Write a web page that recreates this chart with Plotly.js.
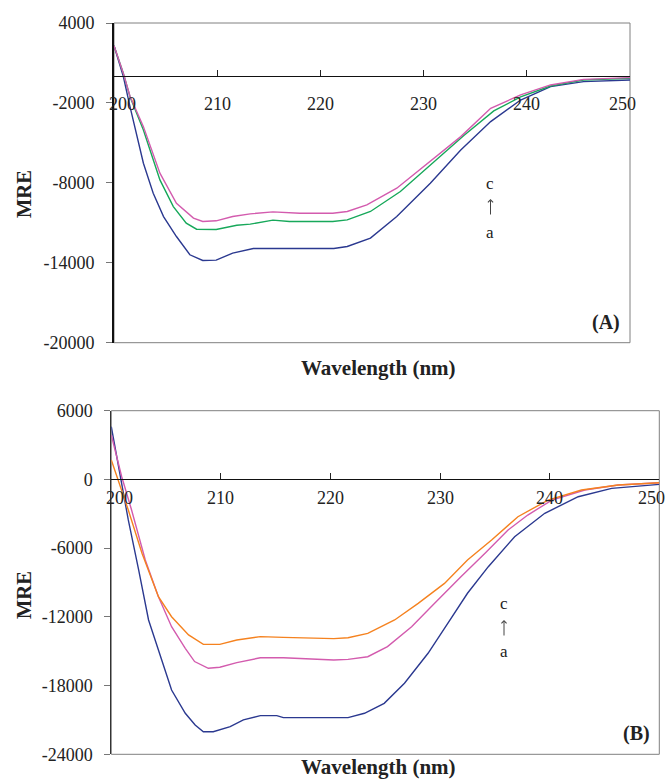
<!DOCTYPE html>
<html>
<head>
<meta charset="utf-8">
<script src="https://cdn.plot.ly/plotly-3.0.1.min.js"></script>
<style>
  html, body { margin: 0; padding: 0; background: #fff; }
  #chart { width: 668px; height: 780px; }
</style>
</head>
<body>
<div id="chart"></div>
<script>
// ---------- Panel A data (wavelength nm, MRE) ----------
const wlA_a = [200, 200.9, 201.55, 202.2, 202.85, 203.8, 204.8, 206.05, 207.35, 208.6, 209.9, 211.5, 213.5, 221.3, 222.6, 224.85, 227.4, 230.65, 233.6, 236.5, 239.4, 242.3, 245.5, 250];
const mreA_a = [2300, 0, -2280, -4530, -6530, -8780, -10530, -12030, -13400, -13830, -13800, -13275, -12930, -12930, -12780, -12150, -10530, -8025, -5530, -3400, -1780, -780, -400, -280];

const wlA_b = [200, 200.9, 201.55, 202.85, 204.45, 205.75, 207.0, 208.0, 209.9, 211.9, 213.2, 215.4, 217.0, 221.2, 222.6, 224.85, 227.75, 231.0, 233.9, 236.8, 239.4, 242.3, 245.5, 250];
const mreA_b = [2300, 225, -1530, -4030, -7780, -9780, -11030, -11480, -11500, -11180, -11100, -10800, -10900, -10900, -10780, -10150, -8650, -6400, -4450, -2600, -1550, -730, -280, -150];

const wlA_c = [200, 200.9, 201.55, 202.85, 204.45, 206.05, 207.7, 208.6, 209.9, 211.5, 213.2, 215.4, 218.0, 221.2, 222.6, 224.5, 227.4, 230.0, 233.6, 236.5, 239.4, 242.3, 245.5, 250];
const mreA_c = [2300, 225, -1500, -3780, -7275, -9530, -10650, -10900, -10850, -10530, -10330, -10180, -10280, -10280, -10150, -9650, -8400, -6780, -4530, -2400, -1400, -650, -230, -100];

// ---------- Panel B data ----------
const wlB_a = [200, 200.8, 201.55, 202.5, 203.4, 204.6, 205.5, 206.75, 207.65, 208.4, 209.3, 210.85, 212.05, 213.6, 215.1, 215.7, 220.3, 221.6, 223.1, 224.9, 226.75, 228.9, 230.7, 232.5, 234.4, 236.8, 239.55, 242.6, 245.65, 250];
const mreB_a = [4600, 235, -3540, -7910, -12275, -15770, -18385, -20420, -21440, -22025, -22025, -21590, -21000, -20625, -20625, -20800, -20800, -20800, -20420, -19550, -17800, -15180, -12560, -9940, -7620, -5000, -2960, -1510, -780, -430];

const wlB_b = [200, 200.95, 201.85, 203.1, 204.3, 205.5, 206.75, 207.6, 208.85, 209.9, 211.45, 213.6, 215.7, 218.8, 220.3, 221.6, 223.4, 225.2, 227.4, 229.5, 231.9, 234.1, 236.2, 238.0, 240.2, 243.2, 246.25, 250];
const mreB_b = [3880, 235, -2670, -7040, -10240, -12860, -14745, -15900, -16490, -16400, -16000, -15570, -15570, -15710, -15770, -15710, -15480, -14600, -12860, -10820, -8490, -6450, -4420, -3110, -1800, -925, -490, -290];

const wlB_c = [200, 200.65, 201.55, 202.8, 204.3, 205.5, 207.05, 208.4, 209.9, 211.45, 213.6, 215.7, 218.8, 220.3, 221.6, 223.4, 225.85, 228.0, 230.4, 232.5, 234.7, 237.1, 239.85, 242.9, 246.25, 250];
const mreB_c = [1700, -50, -2670, -6450, -10240, -11990, -13580, -14400, -14400, -14020, -13730, -13790, -13820, -13900, -13820, -13440, -12270, -10820, -9080, -7040, -5290, -3260, -1800, -925, -490, -290];

// ---------- axis ticks ----------
const xRange = [200, 250];
const xTicks = [200, 210, 220, 230, 240, 250];
const yRangeA = [-20000, 4000];
const yTicksA = [4000, -2000, -8000, -14000, -20000];
const yLabelsA = ['4000', '-2000', '-8000', '-14000', '-20000'];
const yRangeB = [-24000, 6000];
const yTicksB = [6000, 0, -6000, -12000, -18000, -24000];
const yLabelsB = ['6000', '0', '-6000', '-12000', '-18000', '-24000'];

const W = 668, H = 780;
const px = x => x / W;
const py = y => 1 - y / H;

const domXA = [px(114), px(630)];
const domYA = [py(342.7), py(23)];
const domXB = [px(111.3), px(659.3)];
const domYB = [py(754.3), py(410.7)];

function zeroPos(dom, rng) {
  return dom[0] + (0 - rng[0]) / (rng[1] - rng[0]) * (dom[1] - dom[0]);
}

const SERIF = 'Liberation Serif';
const TXT = '#222';
const tickFont = {family: SERIF, size: 18, color: TXT};

const cBlue = '#2b3990', cGreen = '#17a85a', cMag = '#d35bae', cOrange = '#f5821f';
const lw = 1.4;

const traces = [
  {x: wlA_a, y: mreA_a, xaxis: 'x', yaxis: 'y', mode: 'lines', line: {color: cBlue, width: lw}},
  {x: wlA_b, y: mreA_b, xaxis: 'x', yaxis: 'y', mode: 'lines', line: {color: cGreen, width: lw}},
  {x: wlA_c, y: mreA_c, xaxis: 'x', yaxis: 'y', mode: 'lines', line: {color: cMag, width: lw}},
  {x: wlB_a, y: mreB_a, xaxis: 'x2', yaxis: 'y2', mode: 'lines', line: {color: cBlue, width: lw}},
  {x: wlB_b, y: mreB_b, xaxis: 'x2', yaxis: 'y2', mode: 'lines', line: {color: cMag, width: lw}},
  {x: wlB_c, y: mreB_c, xaxis: 'x2', yaxis: 'y2', mode: 'lines', line: {color: cOrange, width: lw}}
];

function xAxis(dom, pos) {
  return {
    domain: dom, range: xRange, anchor: 'free', position: pos,
    tickvals: xTicks, ticks: 'inside', ticklen: 6, tickcolor: '#222', tickwidth: 1,
    showticklabels: false,
    showline: true, linecolor: '#111', linewidth: 1,
    showgrid: false, zeroline: false, fixedrange: true
  };
}
function yAxis(dom, rng, tv, tt, anchor, lc, lwid) {
  return {
    domain: dom, range: rng, anchor: anchor, tickvals: tv, ticktext: tt,
    ticks: 'outside', ticklen: 6, tickcolor: '#777', tickwidth: 1,
    showline: true, linecolor: lc, linewidth: lwid,
    showgrid: false, zeroline: false, tickfont: tickFont, ticklabelstandoff: 8,
    fixedrange: true
  };
}

function xTickLabels(xref, yref, shiftDown) {
  return xTicks.map((v, i) => ({
    text: String(v), x: v, y: 0, xref: xref, yref: yref,
    xanchor: 'center', yanchor: 'middle', yshift: -shiftDown,
    xshift: i === 0 ? 8 : (i === xTicks.length - 1 ? -8 : 0),
    showarrow: false, font: tickFont
  }));
}

const txt = (t, x, y, size, extra) => Object.assign({
  text: t, x: px(x), y: py(y), xref: 'paper', yref: 'paper', showarrow: false,
  xanchor: 'center', yanchor: 'middle',
  font: {family: SERIF, size: size, color: TXT}
}, extra || {});

// thin upward arrow (c <- a) drawn as an annotation arrow
const upArrow = (x, yTip, len) => ({
  text: '', x: px(x), y: py(yTip), xref: 'paper', yref: 'paper',
  showarrow: true, ax: 0, ay: len, axref: 'pixel', ayref: 'pixel',
  arrowhead: 4, arrowsize: 1, arrowwidth: 1, arrowcolor: '#444', standoff: 0, startstandoff: 0
});

const layout = {
  width: W, height: H,
  margin: {l: 0, r: 0, t: 0, b: 0},
  font: {family: SERIF, color: TXT},
  paper_bgcolor: '#fff', plot_bgcolor: 'rgba(0,0,0,0)',
  showlegend: false,
  xaxis: xAxis(domXA, zeroPos(domYA, yRangeA)),
  yaxis: yAxis(domYA, yRangeA, yTicksA, yLabelsA, 'x', '#111', 2),
  xaxis2: xAxis(domXB, zeroPos(domYB, yRangeB)),
  yaxis2: yAxis(domYB, yRangeB, yTicksB, yLabelsB, 'x2', '#333', 1),
  shapes: [
    {type: 'rect', xref: 'x domain', yref: 'y domain', x0: 0, x1: 1, y0: 0, y1: 1,
     line: {color: '#808080', width: 1}, layer: 'below'},
    {type: 'rect', xref: 'x2 domain', yref: 'y2 domain', x0: 0, x1: 1, y0: 0, y1: 1,
     line: {color: '#808080', width: 1}, layer: 'below'}
  ],
  annotations: [].concat(
    xTickLabels('x', 'y', 27.7),
    xTickLabels('x2', 'y2', 18.6),
    [
      txt('<b>MRE</b>', 24, 194, 20.5, {textangle: -90}),
      txt('<b>MRE</b>', 24, 595, 20.5, {textangle: -90}),
      txt('<b>Wavelength (nm)</b>', 379, 368, 21),
      txt('<b>Wavelength (nm)</b>', 379, 767, 21),
      txt('<b>(A)</b>', 606, 322, 20),
      txt('<b>(B)</b>', 636, 733, 20),
      txt('c', 490.5, 183, 17),
      upArrow(490.5, 199, 17),
      txt('a', 490.5, 232, 17),
      txt('c', 504, 603, 17),
      upArrow(504, 620, 17),
      txt('a', 504, 651, 17)
    ]
  )
};

Plotly.newPlot('chart', traces, layout, {displayModeBar: false, staticPlot: true});
</script>
</body>
</html>
